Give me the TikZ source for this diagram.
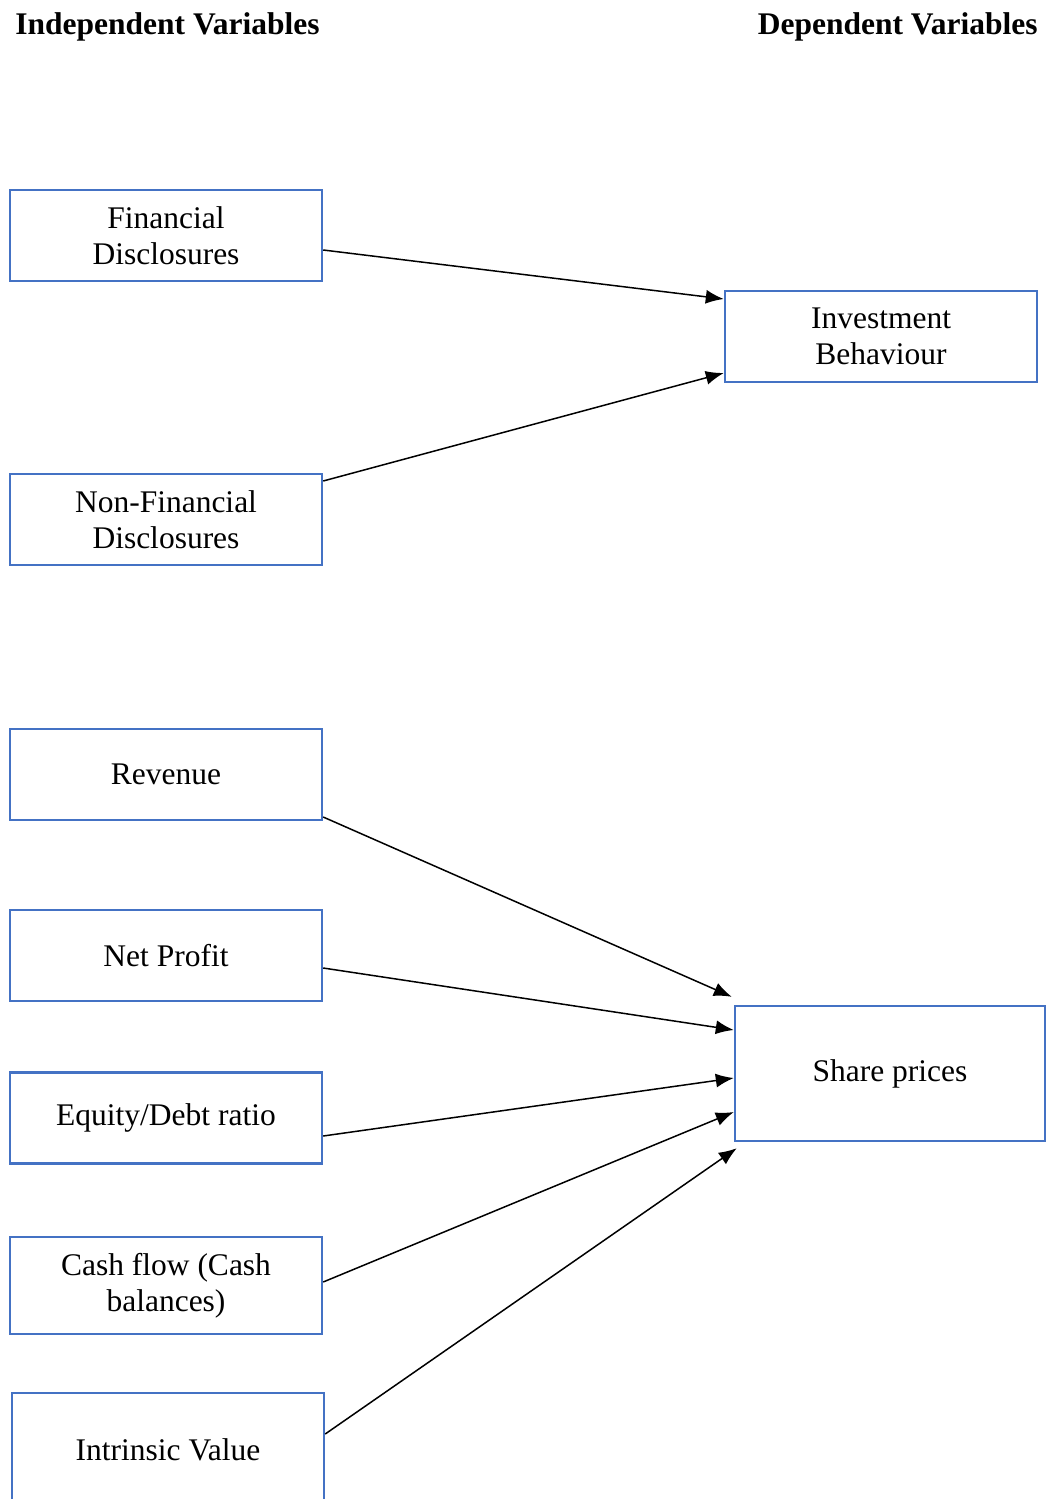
\documentclass[tikz,border=0pt]{standalone}
\usepackage{fontspec}
\setmainfont{Liberation Serif}
\usetikzlibrary{arrows.meta,calc}
\definecolor{boxblue}{HTML}{4472C4}
\begin{document}
\begin{tikzpicture}[x=0.5pt,y=-0.5pt,
  var/.style={draw=boxblue,line width=1.2pt,rectangle,minimum width=156pt,minimum height=45.5pt,align=center,inner sep=2pt,font=\fontsize{15.75}{18}\selectfont},
  head/.style={inner sep=0pt,font=\fontsize{15.75}{18}\selectfont\bfseries},
  conn/.style={line width=0.75pt,-{Latex[length=9pt,width=7pt]}}]
\clip (0,0) rectangle (1046,1499);
\node[head,anchor=base west] (hi) at (15,34) {Independent Variables};
\node[head,anchor=base east] (hd) at (1038,34) {Dependent Variables};
\node[var] (fd) at (166,235.5) {Financial\\Disclosures};
\node[var] (ib) at (881,336.5) {Investment\\Behaviour};
\node[var] (nfd) at (166,519.5) {Non-Financial\\Disclosures};
\node[var] (rev) at (166,774.5) {Revenue};
\node[var] (np) at (166,955.5) {Net Profit};
\node[var] (ed) at (166,1118) {Equity/Debt ratio};
\node[var,minimum height=48.5pt] (cf) at (166,1285.5) {Cash flow (Cash\\balances)};
\node[var,minimum height=57pt] (iv) at (168,1450) {Intrinsic Value};
\node[var,minimum width=155pt,minimum height=67.5pt] (sp) at (890,1073.5) {Share prices};
\draw[conn] ($(fd.east)+(0,14.5)$) -- ($(ib.west)+(0,-37.5)$);
\draw[conn] ($(nfd.east)+(0,-38.5)$) -- ($(ib.west)+(0,36.5)$);
\draw[conn] ($(rev.east)+(0,42.5)$) -- ($(sp.north west)+(-2,-8)$);
\draw[conn] ($(np.east)+(0,12.5)$) -- ($(sp.west)+(0,-43.5)$);
\draw[conn] ($(ed.east)+(0,18)$) -- ($(sp.west)+(0,4.5)$);
\draw[conn] ($(cf.east)+(0,-3.5)$) -- ($(sp.west)+(0,38.5)$);
\draw[conn] ($(iv.east)+(0,-16)$) -- ($(sp.south west)+(3,6)$);
\end{tikzpicture}
\end{document}
